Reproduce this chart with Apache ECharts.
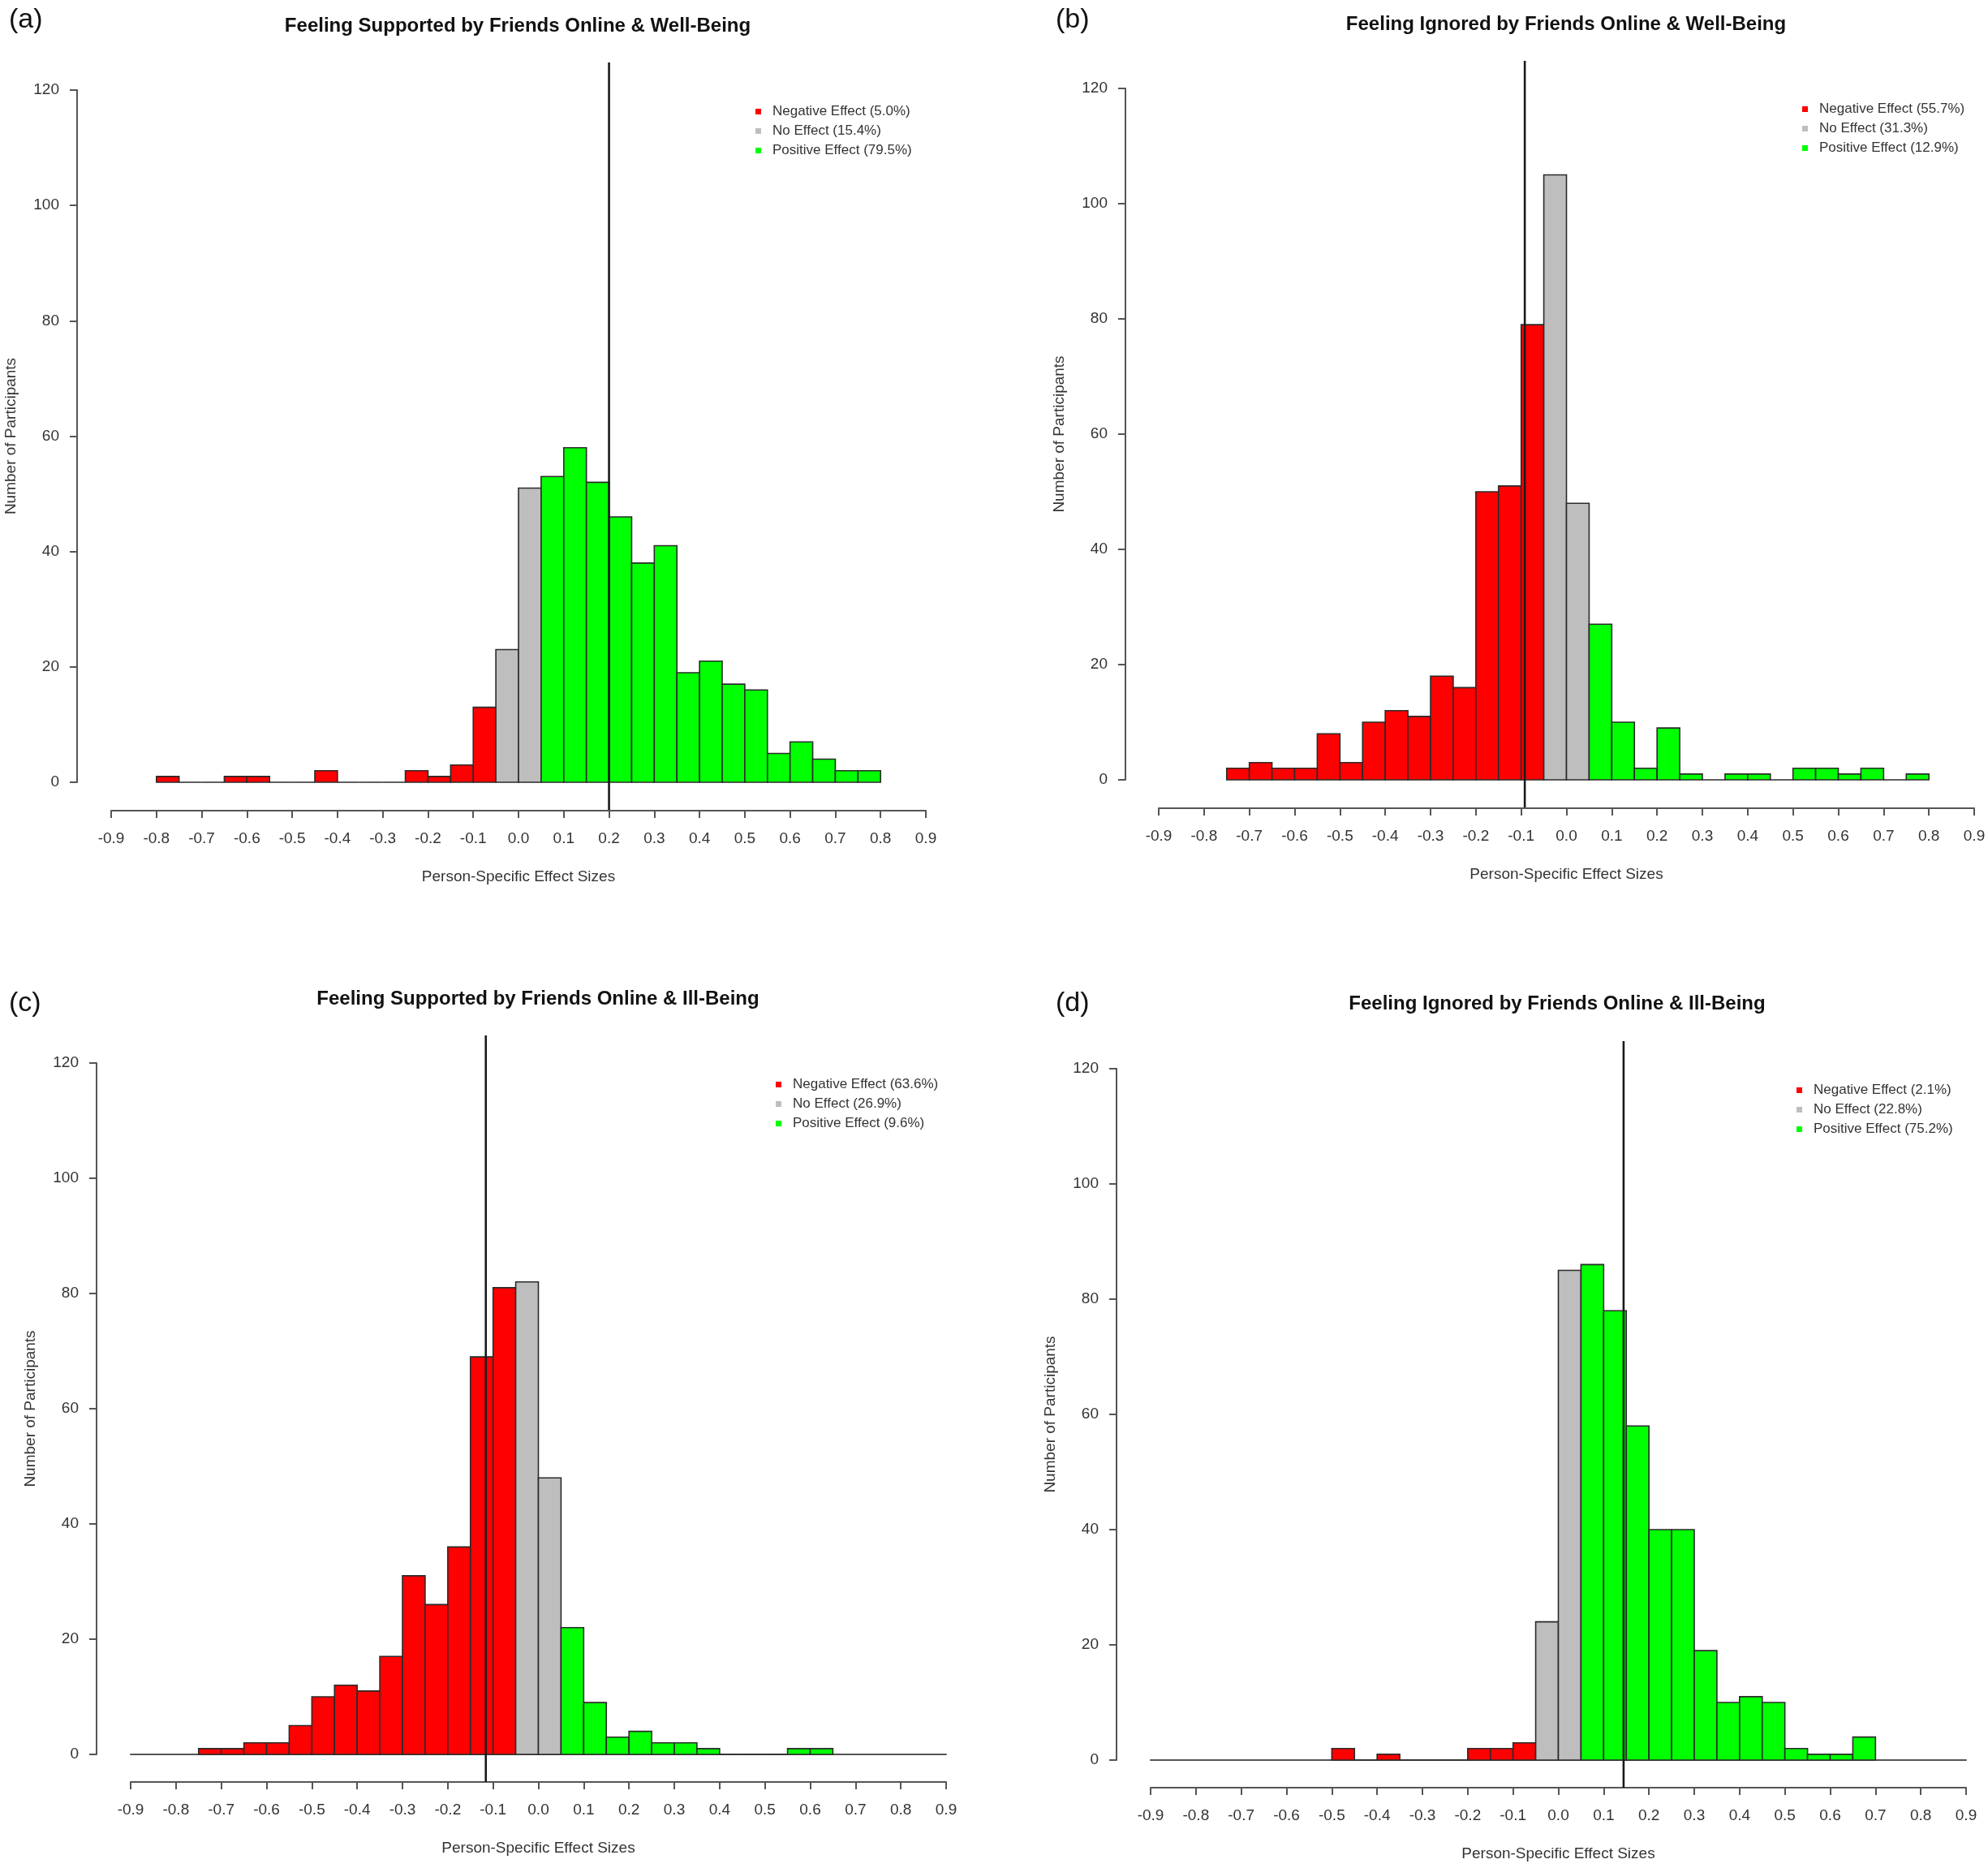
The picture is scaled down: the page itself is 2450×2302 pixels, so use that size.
<!DOCTYPE html>
<html>
<head>
<meta charset="utf-8">
<script src="https://cdn.jsdelivr.net/npm/echarts/dist/echarts.min.js"></script>
<style>
html, body { margin: 0; background: #fff; }
#main { width: 2450px; height: 2302px; }
</style>
</head>
<body>
<div id="main"></div>
<script>
// histogram bins (left edges), width 0.05
var binLeft = [-0.80, -0.75, -0.70, -0.65, -0.60, -0.55, -0.50, -0.45, -0.40, -0.35, -0.30,
               -0.25, -0.20, -0.15, -0.10, -0.05, 0.00, 0.05, 0.10, 0.15, 0.20, 0.25,
               0.30, 0.35, 0.40, 0.45, 0.50, 0.55, 0.60, 0.65, 0.70, 0.75];
var binWidth = 0.05;

// counts per bin, null = no bar drawn
var countsA = [1, 0, 0, 1, 1, 0, 0, 2, 0, 0, 0, 2, 1, 3, 13, 23, 51, 53, 58, 52, 46, 38, 41, 19, 21, 17, 16, 5, 7, 4, 2, 2];
var countsB = [null, 2, 3, 2, 2, 8, 3, 10, 12, 11, 18, 16, 50, 51, 79, 105, 48, 27, 10, 2, 9, 1, 0, 1, 1, 0, 2, 2, 1, 2, 0, 1];
var countsC = [null, 1, 1, 2, 2, 5, 10, 12, 11, 17, 31, 26, 36, 69, 81, 82, 48, 22, 9, 3, 4, 2, 2, 1, 0, 0, 0, 1, 1, null, null, null];
var countsD = [null, null, null, null, null, null, 2, 0, 1, 0, 0, 0, 2, 2, 3, 24, 85, 86, 78, 58, 40, 40, 19, 10, 11, 10, 2, 1, 1, 4, null, null];

// vertical reference line (average effect)
var meanA = 0.20, meanB = -0.092, meanC = -0.116, meanD = 0.144;

var legendA = ['Negative Effect (5.0%)', 'No Effect (15.4%)', 'Positive Effect (79.5%)'];
var legendB = ['Negative Effect (55.7%)', 'No Effect (31.3%)', 'Positive Effect (12.9%)'];
var legendC = ['Negative Effect (63.6%)', 'No Effect (26.9%)', 'Positive Effect (9.6%)'];
var legendD = ['Negative Effect (2.1%)', 'No Effect (22.8%)', 'Positive Effect (75.2%)'];

var titleA = 'Feeling Supported by Friends Online & Well-Being';
var titleB = 'Feeling Ignored by Friends Online & Well-Being';
var titleC = 'Feeling Supported by Friends Online & Ill-Being';
var titleD = 'Feeling Ignored by Friends Online & Ill-Being';
var tags = ['(a)', '(b)', '(c)', '(d)'];

var xName = 'Person-Specific Effect Sizes';
var yName = 'Number of Participants';

var font = 'Liberation Sans, Arial, sans-serif';
var groupColors = ['#ff0000', '#bebebe', '#00ff00'];
var lineSpan = [-4.8, 124.8];

var panels = [
    {counts: countsA, mean: meanA, legend: legendA, title: titleA,
     grid: {left: 137, top: 111, width: 1004, height: 853}, yOff: 42, xOff: 35,
     titleX: 633, titleY: 15, tagX: 6, tagY: 3, legX: 926, legY: 124, baseline: false},
    {counts: countsB, mean: meanB, legend: legendB, title: titleB,
     grid: {left: 1428, top: 109, width: 1005, height: 852}, yOff: 41, xOff: 35,
     titleX: 1925, titleY: 13, tagX: 1296, tagY: 3, legX: 2216, legY: 121, baseline: false},
    {counts: countsC, mean: meanC, legend: legendC, title: titleC,
     grid: {left: 161, top: 1310, width: 1005, height: 852}, yOff: 42, xOff: 34,
     titleX: 658, titleY: 1214, tagX: 6, tagY: 1215, legX: 951, legY: 1323, baseline: true},
    {counts: countsD, mean: meanD, legend: legendD, title: titleD,
     grid: {left: 1418, top: 1317, width: 1005, height: 852}, yOff: 42, xOff: 34,
     titleX: 1914, titleY: 1220, tagX: 1296, tagY: 1215, legX: 2209, legY: 1330, baseline: true}
];

function groupOf(edge) {
    if (edge < -0.05 - 1e-9) return 0;
    if (edge < 0.05 - 1e-9) return 1;
    return 2;
}

function renderBin(params, api) {
    var p0 = api.coord([api.value(0), 0]);
    var p1 = api.coord([api.value(1), api.value(2)]);
    return {
        type: 'rect',
        shape: {x: p0[0], y: p1[1], width: p1[0] - p0[0], height: p0[1] - p1[1]},
        style: {fill: api.visual('color'), stroke: '#2b2b2b', lineWidth: 1.6}
    };
}

function renderMean(params, api) {
    var top = api.coord([api.value(0), lineSpan[1]]);
    var bot = api.coord([api.value(0), lineSpan[0]]);
    return {
        type: 'line',
        shape: {x1: top[0], y1: top[1], x2: bot[0], y2: bot[1]},
        style: {stroke: '#1a1a1a', lineWidth: 2.6}
    };
}

var option = {
    backgroundColor: '#ffffff',
    animation: false,
    title: [],
    legend: [],
    grid: [],
    xAxis: [],
    yAxis: [],
    series: []
};

var axisLine = {show: true, onZero: false, lineStyle: {color: '#555', width: 2}};

panels.forEach(function (p, i) {
    option.grid.push(p.grid);
    option.title.push({
        text: p.title, left: p.titleX, top: p.titleY, textAlign: 'center',
        textStyle: {fontFamily: font, fontSize: 24, fontWeight: 'bold', color: '#111'}
    });
    option.title.push({
        text: tags[i], left: p.tagX, top: p.tagY,
        textStyle: {fontFamily: font, fontSize: 34, fontWeight: 'normal', color: '#111'}
    });
    option.legend.push({
        data: p.legend, orient: 'vertical', left: p.legX, top: p.legY,
        icon: 'rect', itemWidth: 7, itemHeight: 7, itemGap: 7,
        selectedMode: false,
        textStyle: {fontFamily: font, fontSize: 17, color: '#333', padding: [0, 0, 0, 9]}
    });
    option.xAxis.push({
        type: 'value', gridIndex: i, min: -0.9, max: 0.9, interval: 0.1,
        position: 'bottom', offset: p.xOff,
        name: xName, nameLocation: 'middle', nameGap: 72,
        nameTextStyle: {fontFamily: font, fontSize: 19, color: '#333'},
        axisLine: axisLine,
        axisTick: {show: true, length: 9, lineStyle: {color: '#555', width: 2}},
        axisLabel: {
            margin: 25, fontFamily: font, fontSize: 19, color: '#333',
            formatter: function (v) { return Math.abs(v) < 1e-9 ? '0.0' : v.toFixed(1); }
        },
        splitLine: {show: false}
    });
    option.yAxis.push({
        type: 'value', gridIndex: i, min: 0, max: 120, interval: 20,
        position: 'left', offset: p.yOff,
        name: yName, nameLocation: 'middle', nameGap: 72,
        nameTextStyle: {fontFamily: font, fontSize: 19, color: '#333'},
        axisLine: axisLine,
        axisTick: {show: true, length: 9, lineStyle: {color: '#555', width: 2}},
        axisLabel: {margin: 22, fontFamily: font, fontSize: 19, color: '#333'},
        splitLine: {show: false}
    });

    var groups = [[], [], []];
    p.counts.forEach(function (c, k) {
        if (c === null) return;
        var edge = binLeft[k];
        groups[groupOf(edge)].push([edge, edge + binWidth, c]);
    });
    groups.forEach(function (g, gi) {
        option.series.push({
            type: 'custom', name: p.legend[gi], xAxisIndex: i, yAxisIndex: i,
            itemStyle: {color: groupColors[gi]},
            renderItem: renderBin,
            encode: {x: [0, 1], y: 2},
            data: g,
            z: 2
        });
    });
    option.series.push({
        type: 'custom', xAxisIndex: i, yAxisIndex: i, clip: false,
        renderItem: renderMean, encode: {x: 0}, data: [[p.mean]], z: 5, silent: true
    });
});

// flat baseline across the whole range in panels (c) and (d)
panels.forEach(function (p, i) {
    if (!p.baseline) return;
    option.xAxis.push({
        type: 'value', gridIndex: i, min: -0.9, max: 0.9, position: 'bottom', offset: 0,
        axisLine: axisLine, axisTick: {show: false}, axisLabel: {show: false},
        splitLine: {show: false}
    });
});

var myChart = echarts.init(document.getElementById('main'));
myChart.setOption(option);
</script>
</body>
</html>
